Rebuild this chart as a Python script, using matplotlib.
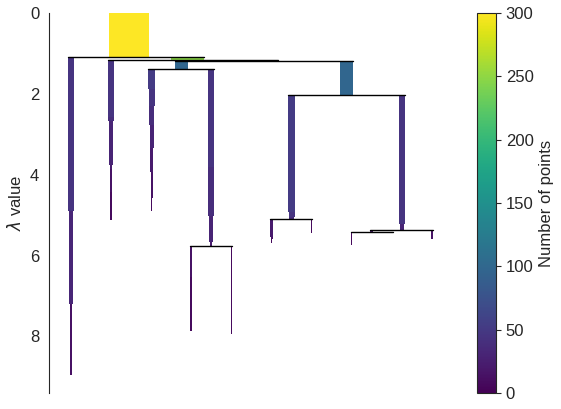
import matplotlib
matplotlib.use('Agg')
import matplotlib.pyplot as plt
import seaborn as sns
import numpy as np

sns.set_style('white')
plt.rcParams['font.family'] = ['Liberation Sans', 'DejaVu Sans']
plt.rcParams['font.size'] = 12

# condensed tree: one entry per cluster
names = ['root', 'A', 'B', 'C', 'D', 'E', 'F', 'G', 'H', 'I', 'J',
         'K', 'M', 'N', 'O', 'P', 'Q', 'R', 'S']
parent = [None, 'root', 'root', 'B', 'B', 'D', 'D', 'E', 'E', 'H', 'H',
          'F', 'F', 'K', 'K', 'M', 'M', 'P', 'P']
birth = [0.0, 1.078, 1.078, 1.152, 1.152, 1.185, 1.185, 1.383, 1.383, 5.77, 5.77,
         2.027, 2.027, 5.10, 5.10, 5.37, 5.37, 5.42, 5.42]
# lambda where each step ends, and cluster size during that step
step_ends = [
    [1.078],
    [4.89, 7.19, 8.95],
    [1.152],
    [2.58, 2.68, 3.77, 3.87, 4.44, 5.11],
    [1.185],
    [1.383],
    [2.027],
    [1.89, 2.31, 2.78, 3.33, 3.93, 4.57, 4.91],
    [3.80, 5.01, 5.66, 5.77],
    [6.52, 7.86],
    [7.93],
    [4.92, 5.04, 5.10],
    [5.22, 5.37],
    [5.55, 5.59, 5.69],
    [5.43],
    [5.42],
    [5.59],
    [5.75],
    [5.42],
]
step_sizes = [
    [300],
    [45, 32, 14],
    [248],
    [45, 38, 30, 22, 15, 8],
    [200],
    [98],
    [98],
    [52, 45, 38, 30, 22, 15, 8],
    [45, 38, 30, 22],
    [15, 8],
    [8],
    [52, 45, 38],
    [45, 30],
    [22, 15, 8],
    [8],
    [22],
    [15],
    [8],
    [6],
]

# horizontal layout of the clusters (leaf ordering)
xpos = [129, 71, 187.5, 111, 264.7, 181.5, 346.5, 151.5, 211, 191, 231.5,
        291.5, 402, 271.5, 311.5, 371.5, 432, 351.5, 393]
scale = 40.0 / 300  # bar width per point

fig = plt.figure(figsize=(5.61, 4.09), dpi=100)
ax = fig.add_axes([49 / 561, 16 / 409, 406 / 561, 380 / 409])
cax = fig.add_axes([477 / 561, 16 / 409, 19 / 561, 380 / 409])

cmap = plt.get_cmap('viridis')
norm = matplotlib.colors.Normalize(vmin=0, vmax=300)

for i, name in enumerate(names):
    start = birth[i]
    for end, size in zip(step_ends[i], step_sizes[i]):
        ax.bar(xpos[i], end - start, bottom=start, width=size * scale,
               color=cmap(norm(size)), linewidth=0, align='center')
        start = end

# split lines
for i, name in enumerate(names):
    kids = [j for j in range(len(names)) if parent[j] == name]
    if not kids:
        continue
    kids.sort(key=lambda j: xpos[j])
    left, right = kids[0], kids[-1]
    x0 = xpos[left] - step_sizes[left][0] * scale / 2
    x1 = xpos[right] + step_sizes[right][0] * scale / 2
    ax.plot([x0, x1], [birth[left], birth[left]], color='black', linewidth=1.0)

ax.set_xlim(49, 455)
ax.set_ylim(9.4, 0)
ax.set_xticks([])
ax.set_yticks([0, 2, 4, 6, 8])
for s in ['top', 'right', 'bottom']:
    ax.spines[s].set_visible(False)
ax.set_ylabel(r'$\lambda$ value')

sm = matplotlib.cm.ScalarMappable(norm=norm, cmap=cmap)
cb = fig.colorbar(sm, cax=cax)
cb.set_ticks([0, 50, 100, 150, 200, 250, 300])
cb.set_label('Number of points')

plt.savefig('out.png', dpi=100)
